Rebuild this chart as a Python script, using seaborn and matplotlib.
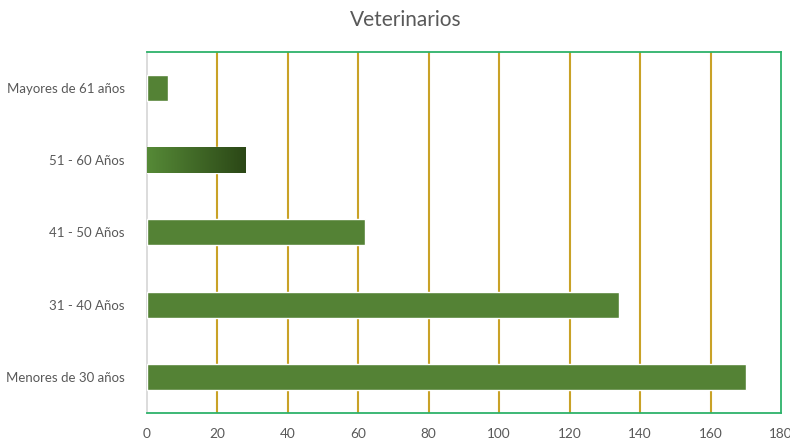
import matplotlib
matplotlib.use("Agg")
import matplotlib.pyplot as plt
import seaborn as sns
import numpy as np
import pandas as pd
from matplotlib.colors import LinearSegmentedColormap

categories = ["Mayores de 61 años", "51 - 60 Años", "41 - 50 Años", "31 - 40 Años", "Menores de 30 años"]
values = [6, 28, 62, 134, 170]
xticks = [0, 20, 40, 60, 80, 100, 120, 140, 160, 180]

sns.set_theme(style="white")
plt.rcParams['font.family'] = ['Lato', 'DejaVu Sans']

df = pd.DataFrame({"cat": categories, "val": values})

fig = plt.figure(figsize=(7.9, 4.4), dpi=100)
ax = fig.add_axes([0.186, 0.0614, 0.8026, 0.8206])

sns.barplot(data=df, x="val", y="cat", orient="h", color="#548235", saturation=1,
            width=0.36, ax=ax, zorder=3)

# gradient on the second bar
patch = ax.patches[1]
bb = patch.get_bbox()
cmap = LinearSegmentedColormap.from_list("g", ["#568A37", "#2B4716"])
grad = np.linspace(0, 1, 256).reshape(1, -1)
im = ax.imshow(grad, extent=[bb.x0, bb.x1, bb.y1, bb.y0], cmap=cmap, aspect="auto", zorder=4)
im.set_clip_path(patch)

ax.set_xlim(0, 180)
ax.set_ylim(4.5, -0.5)
ax.set_xticks(xticks)
for xv in xticks[1:-1]:
    ax.axvline(xv, color="#C9A227", lw=1.5, zorder=1)

for s in ["top", "right", "bottom"]:
    ax.spines[s].set_color("#2DB26A")
    ax.spines[s].set_linewidth(1.3)
ax.spines["left"].set_color("#D9D9D9")
ax.spines["left"].set_linewidth(1.3)

ax.set_xlabel("")
ax.set_ylabel("")
ax.tick_params(axis="both", length=0, colors="#595959", labelsize=9.8)
ax.tick_params(axis="y", labelsize=9.5)
ax.tick_params(axis="x", pad=11)
ax.tick_params(axis="y", pad=16)
fig.text(0.513, 0.955, "Veterinarios", fontsize=15, color="#595959", ha="center", va="center")

fig.savefig("out.png", dpi=100)
